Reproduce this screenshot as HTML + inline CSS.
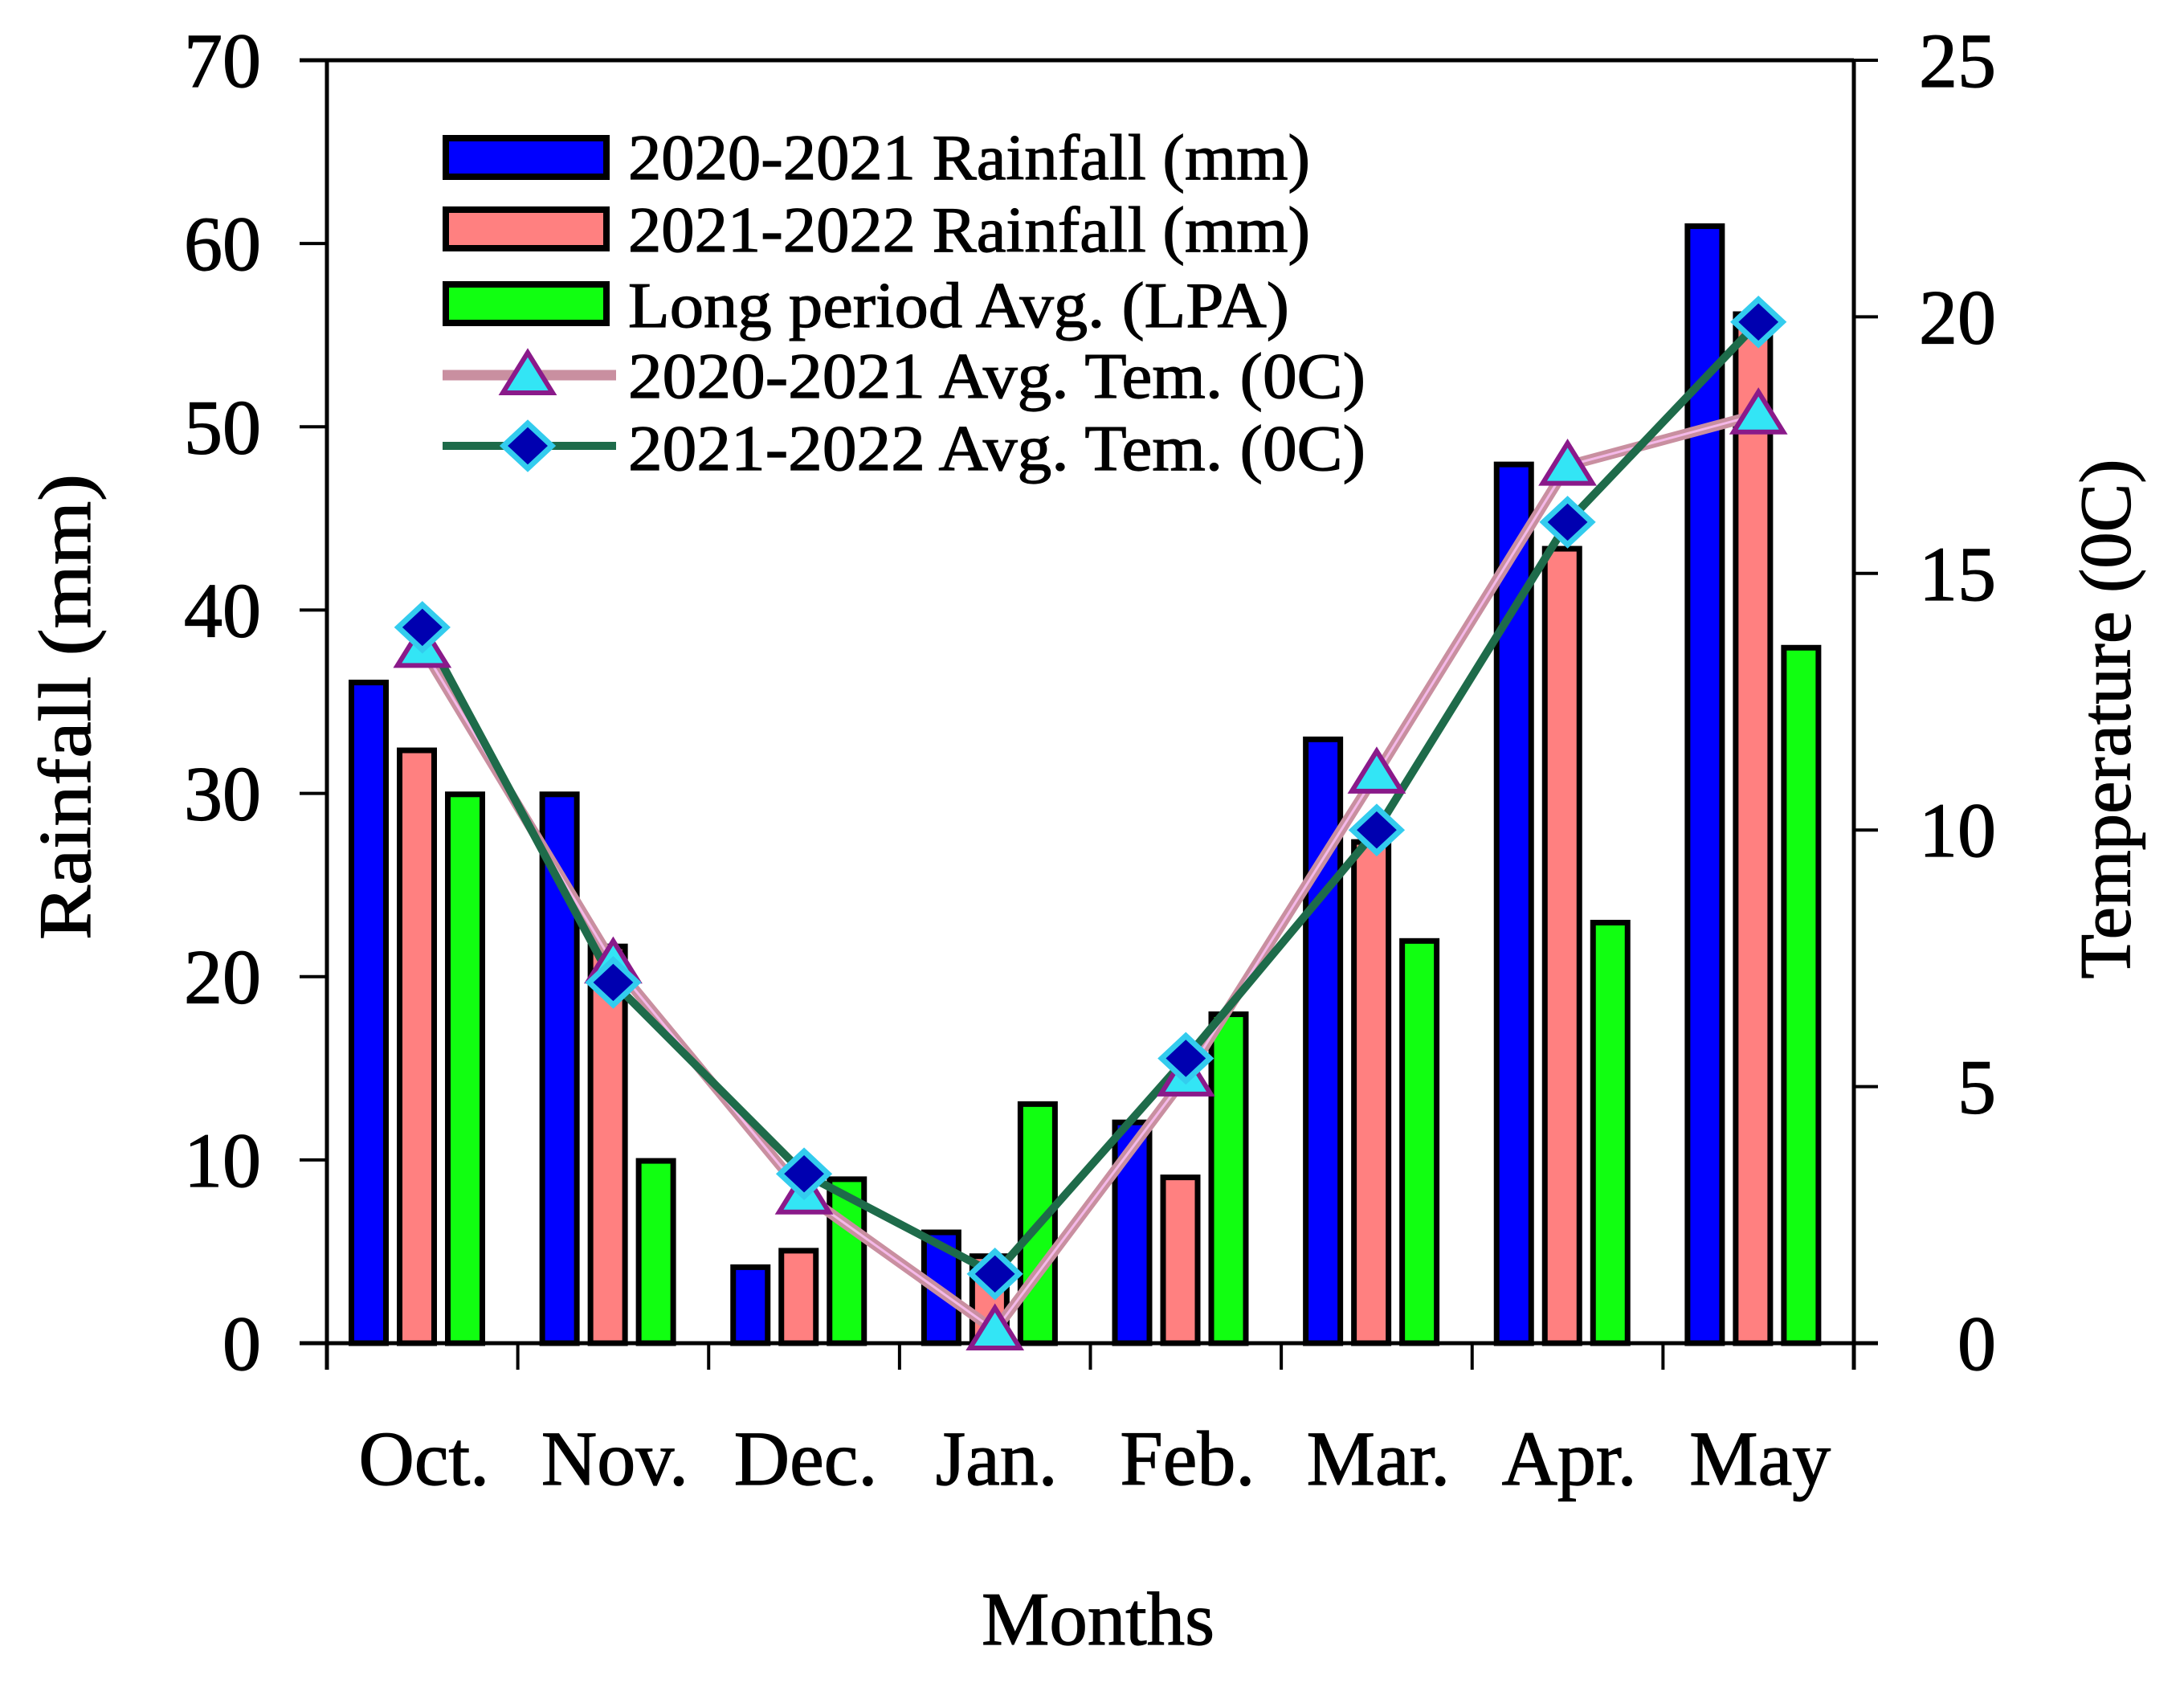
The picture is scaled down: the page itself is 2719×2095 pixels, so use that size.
<!DOCTYPE html>
<html><head><meta charset="utf-8"><style>
html,body{margin:0;padding:0;background:#fff;}
svg{display:block;font-family:"Liberation Serif",serif;}
svg text{stroke:#000;stroke-width:1.2px;}
</style></head><body>
<svg id="chart" width="2719" height="2095" viewBox="0 0 2719 2095" xmlns="http://www.w3.org/2000/svg">
<rect width="2719" height="2095" fill="#fff"/>
<g id="bars"></g>
<g id="axes"></g>
<g id="lines"></g>
<g id="legend"></g>
<text x="91" y="880" font-size="92" text-anchor="middle" dominant-baseline="middle" transform="rotate(-90 91 880)" textLength="580" lengthAdjust="spacingAndGlyphs">Rainfall (mm)</text>
<text x="2631" y="895" font-size="90" text-anchor="middle" dominant-baseline="middle" transform="rotate(-90 2631 895)" textLength="647" lengthAdjust="spacingAndGlyphs">Temperature (0C)</text>
<text x="1367" y="2047" font-size="94" text-anchor="middle" textLength="290" lengthAdjust="spacingAndGlyphs">Months</text>
</svg>
<script>
const categories = ["Oct.","Nov.","Dec.","Jan.","Feb.","Mar.","Apr.","May"];
const rain2021 = [36.2,30.1,4.3,6.2,12.2,33.1,48.1,61.1];
const rain2122 = [32.5,21.8,5.2,4.9,9.2,27.5,43.5,56.3];
const rainLPA = [30.1,10.1,9.1,13.2,18.1,22.1,23.1,38.1];
const temp2021 = [13.55,7.4,2.9,0.25,5.2,11.1,17.1,18.1];
const temp2122 = [13.95,7.03,3.3,1.35,5.55,10.0,16.0,19.9];
const leftTicks = [0,10,20,30,40,50,60,70];
const rightTicks = [0,5,10,15,20,25];

const NS="http://www.w3.org/2000/svg";
const L=407,R=2308,T=75,B=1672;
const gw=(R-L)/categories.length;
function yL(v){return B-(v/70)*(B-T);}
function yR(v){return B-(v/25)*(B-T);}
function gx(i){return L+i*gw;}
function mk(tag,attrs,parent){const e=document.createElementNS(NS,tag);for(const k in attrs)e.setAttribute(k,attrs[k]);parent.appendChild(e);return e;}

const bars=document.getElementById('bars');
const series=[[rain2021,'#0000ff','bar-2020-2021'],[rain2122,'#ff8080','bar-2021-2022'],[rainLPA,'#11ff11','bar-lpa']];
series.forEach((s,si)=>{
  s[0].forEach((v,i)=>{
    const x=gx(i)+27+si*60;
    const r=mk('rect',{x:x+3.5,y:yL(v)+3.5,width:43,height:Math.max(0,B-yL(v)-3.5),fill:s[1],stroke:'#000','stroke-width':7},bars);
    
    
  });
});

const axes=document.getElementById('axes');
mk('line',{x1:373,y1:T,x2:R,y2:T,stroke:'#000','stroke-width':5},axes);
mk('line',{x1:L,y1:T,x2:L,y2:1705,stroke:'#000','stroke-width':5},axes);
mk('line',{x1:R,y1:T,x2:R,y2:1705,stroke:'#000','stroke-width':5},axes);
mk('line',{x1:373,y1:B,x2:2338,y2:B,stroke:'#000','stroke-width':5},axes);
leftTicks.forEach(v=>{
  mk('line',{x1:373,y1:yL(v),x2:L,y2:yL(v),stroke:'#000','stroke-width':4},axes);
  const t=mk('text',{x:325,y:yL(v)+33,'font-size':96,'text-anchor':'end'},axes);
  t.textContent=v;
  
  
});
rightTicks.forEach(v=>{
  mk('line',{x1:R,y1:yR(v),x2:2338,y2:yR(v),stroke:'#000','stroke-width':4},axes);
  const t=mk('text',{x:2485,y:yR(v)+33,'font-size':96,'text-anchor':'end'},axes);
  t.textContent=v;
  
  
});
for(let i=1;i<categories.length;i++){
  mk('line',{x1:gx(i),y1:B,x2:gx(i),y2:1705,stroke:'#000','stroke-width':4},axes);
}
categories.forEach((c,i)=>{
  const t=mk('text',{x:gx(i)+gw/2+2,y:1848,'font-size':96,'text-anchor':'middle'},axes);
  t.textContent=c;
  
  
});

function tri(cx,cy,parent){
  return mk('polygon',{points:`${cx},${cy-28} ${cx+31},${cy+22} ${cx-31},${cy+22}`,fill:'#33e5f5',stroke:'#8a1a8a','stroke-width':6},parent);
}
function dia(cx,cy,parent){
  return mk('polygon',{points:`${cx},${cy-28} ${cx+30},${cy} ${cx},${cy+28} ${cx-30},${cy}`,fill:'#0000b0',stroke:'#33ccee','stroke-width':7},parent);
}
const lines=document.getElementById('lines');
const p1=temp2021.map((v,i)=>`${gx(i)+gw/2},${yR(v)}`).join(' ');
const p2=temp2122.map((v,i)=>`${gx(i)+gw/2},${yR(v)}`).join(' ');
const l1=mk('polyline',{points:p1,fill:'none',stroke:'#c98fa0','stroke-width':13},lines);


mk('polyline',{points:p1,fill:'none',stroke:'#f4b8e8','stroke-width':3},lines);
const l2=mk('polyline',{points:p2,fill:'none',stroke:'#1e6b4a','stroke-width':10},lines);


temp2021.forEach((v,i)=>{
  const m=tri(gx(i)+gw/2,yR(v),lines);
  
  
});
temp2122.forEach((v,i)=>{
  const m=dia(gx(i)+gw/2,yR(v),lines);
  
  
});

const lg=document.getElementById('legend');
const legendRows=[
 ['2020-2021 Rainfall (mm)',223,849,'#0000ff','box'],
 ['2021-2022 Rainfall (mm)',313,849,'#ff8080','box'],
 ['Long period Avg. (LPA)',407,823,'#11ff11','box'],
 ['2020-2021 Avg. Tem. (0C)',495,918,'','tri'],
 ['2021-2022 Avg. Tem. (0C)',585,918,'','dia']
];
legendRows.forEach((r,i)=>{
  const cy=[196,285,378,467,555][i];
  if(r[4]==='box'){
    mk('rect',{x:555,y:cy-24,width:200,height:48,fill:r[3],stroke:'#000','stroke-width':8},lg);
  }else if(r[4]==='tri'){
    mk('line',{x1:551,y1:cy,x2:767,y2:cy,stroke:'#c98fa0','stroke-width':13},lg);
    tri(657,cy,lg);
  }else{
    mk('line',{x1:551,y1:cy,x2:767,y2:cy,stroke:'#1e6b4a','stroke-width':10},lg);
    dia(657,cy,lg);
  }
  const t=mk('text',{x:782,y:r[1],'font-size':80,textLength:r[2],lengthAdjust:'spacingAndGlyphs'},lg);
  t.textContent=r[0];
  
  
});
</script>
</body></html>
